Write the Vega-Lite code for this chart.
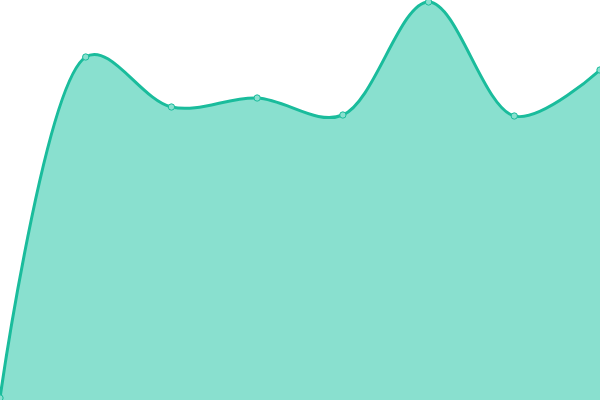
{
  "$schema": "https://vega.github.io/schema/vega-lite/v6.json",
  "width": 600,
  "height": 400,
  "padding": 0,
  "autosize": {"type": "none"},
  "background": "white",
  "config": {"view": {"stroke": null}},
  "data": {
    "values": [
      {"i": 0, "v": 2},
      {"i": 1, "v": 343},
      {"i": 2, "v": 293},
      {"i": 3, "v": 302},
      {"i": 4, "v": 285},
      {"i": 5, "v": 398},
      {"i": 6, "v": 284},
      {"i": 7, "v": 330}
    ]
  },
  "mark": {
    "type": "area",
    "interpolate": "catmull-rom",
    "tension": 0.4,
    "fill": "#89e0cf",
    "opacity": 1,
    "line": {"color": "#1abc9c", "strokeWidth": 3, "interpolate": "catmull-rom", "tension": 0.4},
    "point": {"filled": true, "fill": "#89e0cf", "stroke": "#1abc9c", "strokeWidth": 1, "size": 40}
  },
  "encoding": {
    "x": {"field": "i", "type": "quantitative", "axis": null, "scale": {"domain": [0, 7], "nice": false}},
    "y": {"field": "v", "type": "quantitative", "axis": null, "scale": {"domain": [0, 400], "nice": false}}
  }
}
